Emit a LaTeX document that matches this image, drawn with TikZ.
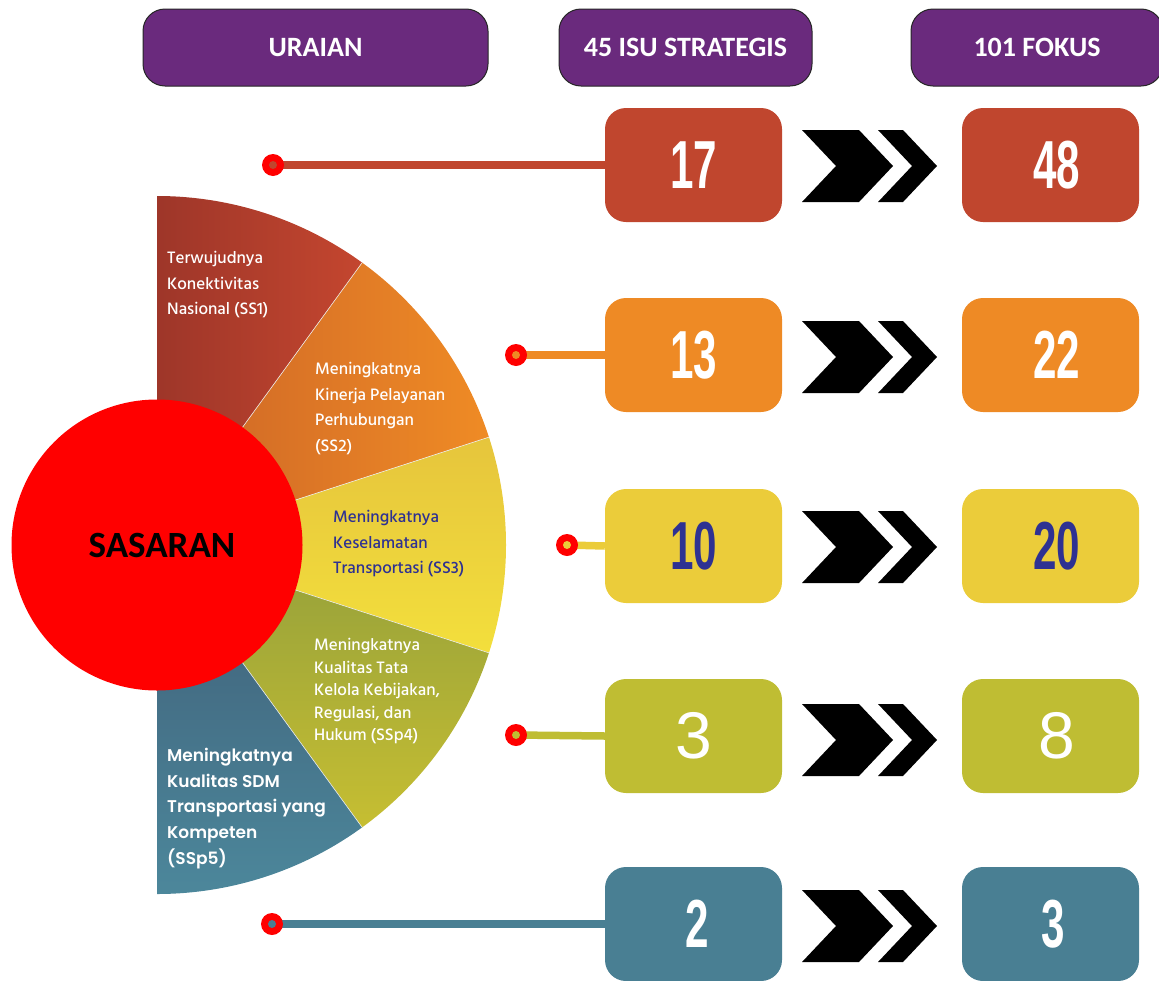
\documentclass[tikz,border=0pt]{standalone}
\usepackage{fontspec}
\usepackage{graphicx}
\newfontfamily\carlito{Carlito}
\newfontfamily\hind{Hind Siliguri}[UprightFont=* Medium]
\newfontfamily\popp{Poppins}[UprightFont=* SemiBold]
\newfontfamily\numfont{Liberation Sans}
\newcommand\cnum[1]{\scalebox{0.62}[1]{#1}}
\definecolor{hdr}{HTML}{6A2A7D}
\definecolor{cA}{HTML}{C0462E}
\definecolor{cB}{HTML}{EE8A25}
\definecolor{cC}{HTML}{EBCC3A}
\definecolor{cD}{HTML}{BFBD33}
\definecolor{cE}{HTML}{497F93}
\definecolor{navy}{HTML}{2E3192}
\definecolor{ssAa}{HTML}{9E3629}
\definecolor{ssAb}{HTML}{C4462F}
\definecolor{ssBa}{HTML}{CC6427}
\definecolor{ssBb}{HTML}{EF8B25}
\definecolor{ssCa}{HTML}{E6C53C}
\definecolor{ssCb}{HTML}{F3DF3C}
\definecolor{ssDa}{HTML}{94A03B}
\definecolor{ssDb}{HTML}{C6BE32}
\definecolor{ssEa}{HTML}{3F5E77}
\definecolor{ssEb}{HTML}{4C879B}
\begin{document}
\begin{tikzpicture}[x=1pt,y=-1pt,
  hdrbox/.style={draw=black!85, line width=1pt, fill=hdr, rounded corners=22pt,
    minimum height=77pt, inner sep=0pt, text=white,
    font=\carlito\bfseries\fontsize{28}{28}\selectfont},
  numbox/.style={rounded corners=21pt, minimum width=177pt, minimum height=114pt,
    inner sep=0pt, text=white, font=\numfont\bfseries\fontsize{68}{68}\selectfont},
  lbl/.style={anchor=north west, inner sep=0pt, align=left, text=white,
    font=\hind\fontsize{17}{25.6}\selectfont},
  conn/.style={line width=7.5pt},
  chev/.style={fill=black},
  sep/.style={draw=white!85!gray, line width=0.6pt}
]
\useasboundingbox (0,0) rectangle (1159,980);
\clip (0,0) rectangle (1159,980);

% ---------- header ----------
\node[hdrbox, minimum width=345pt] (h1) at (315.5,47.5) {URAIAN};
\node[hdrbox, minimum width=253pt] (h2) at (685.5,47.5) {45 ISU STRATEGIS};
\node[hdrbox, minimum width=252pt] (h3) at (1037,47.5) {101 FOKUS};

% ---------- fan ----------
\coordinate (C) at (157,545);
\shade[left color=ssAa, right color=ssAb] (C) -- ++(-90:349) arc[start angle=-90, end angle=-54, radius=349] -- cycle;
\shade[left color=ssBa, right color=ssBb] (C) -- ++(-54:349) arc[start angle=-54, end angle=-18, radius=349] -- cycle;
\shade[top color=ssCa, bottom color=ssCb] (C) -- ++(-18:349) arc[start angle=-18, end angle=18, radius=349] -- cycle;
\shade[top color=ssDa, bottom color=ssDb] (C) -- ++(18:349) arc[start angle=18, end angle=54, radius=349] -- cycle;
\shade[top color=ssEa, bottom color=ssEb] (C) -- ++(54:349) arc[start angle=54, end angle=90, radius=349] -- cycle;
\foreach \a in {-54,-18,18,54} \draw[sep] (C) -- ++(\a:349);

\node[lbl] (t1) at (167,251) {Terwujudnya\\Konektivitas\\Nasional (SS1)};
\node[lbl] (t2) at (315,362) {Meningkatnya\\Kinerja Pelayanan\\Perhubungan\\(SS2)};
\node[lbl, text=navy] (t3) at (333,510) {Meningkatnya\\Keselamatan\\Transportasi (SS3)};
\node[lbl, font=\hind\fontsize{17}{22.6}\selectfont] (t4) at (314,638) {Meningkatnya\\Kualitas Tata\\Kelola Kebijakan,\\Regulasi, dan\\Hukum (SSp4)};
\node[lbl, font=\popp\fontsize{17}{25.7}\selectfont] (t5) at (167,748) {Meningkatnya\\Kualitas SDM\\Transportasi yang\\Kompeten\\(SSp5)};

\node[circle, fill=red, minimum size=291pt, inner sep=0pt,
  font=\carlito\bfseries\fontsize{37}{37}\selectfont] (sas) at (157,545) {\hspace*{10pt}SASARAN};

% ---------- number boxes ----------
\node[numbox, fill=cA] (b1) at (693.5,165) {\raisebox{-5pt}{\cnum{17}}};
\node[numbox, fill=cB] (b2) at (693.5,355) {\raisebox{-5pt}{\cnum{13}}};
\node[numbox, fill=cC, text=navy] (b3) at (693.5,546) {\raisebox{-5pt}{\cnum{10}}};
\node[numbox, fill=cD, font=\numfont\fontsize{66}{66}\selectfont] (b4) at (693.5,736) {\raisebox{-5pt}{3}};
\node[numbox, fill=cE] (b5) at (693.5,924) {\raisebox{-5pt}{\hspace*{8pt}\cnum{2}}};

\node[numbox, fill=cA] (f1) at (1050.5,165) {\raisebox{-5pt}{\hspace*{12pt}\cnum{48}}};
\node[numbox, fill=cB] (f2) at (1050.5,355) {\raisebox{-5pt}{\hspace*{12pt}\cnum{22}}};
\node[numbox, fill=cC, text=navy] (f3) at (1050.5,546) {\raisebox{-5pt}{\hspace*{12pt}\cnum{20}}};
\node[numbox, fill=cD, font=\numfont\fontsize{66}{66}\selectfont] (f4) at (1050.5,736) {\raisebox{-5pt}{\hspace*{12pt}8}};
\node[numbox, fill=cE] (f5) at (1050.5,924) {\raisebox{-5pt}{\hspace*{6pt}\cnum{3}}};

% ---------- connectors with dots ----------
\coordinate (d1) at (273,165);
\coordinate (d2) at (516,355);
\coordinate (d3) at (567,545);
\coordinate (d4) at (516,735);
\coordinate (d5) at (272,924);
\foreach \i/\c in {1/cA,2/cB,3/cC,4/cD,5/cE}{
  \draw[conn, draw=\c] (d\i) -- (b\i.west);
  \fill[red] (d\i) circle (11pt);
  \fill[\c] (d\i) circle (4pt);
}

% ---------- chevrons ----------
\foreach \y in {166,357,547,740,926}{
  \fill[chev] (802,\y-36) -- (859,\y-36) -- (893,\y) -- (859,\y+36) -- (802,\y+36) -- (836,\y) -- cycle;
  \fill[chev] (878,\y-36) -- (903,\y-36) -- (937,\y) -- (903,\y+36) -- (878,\y+36) -- (912,\y) -- cycle;
}
\end{tikzpicture}
\end{document}
